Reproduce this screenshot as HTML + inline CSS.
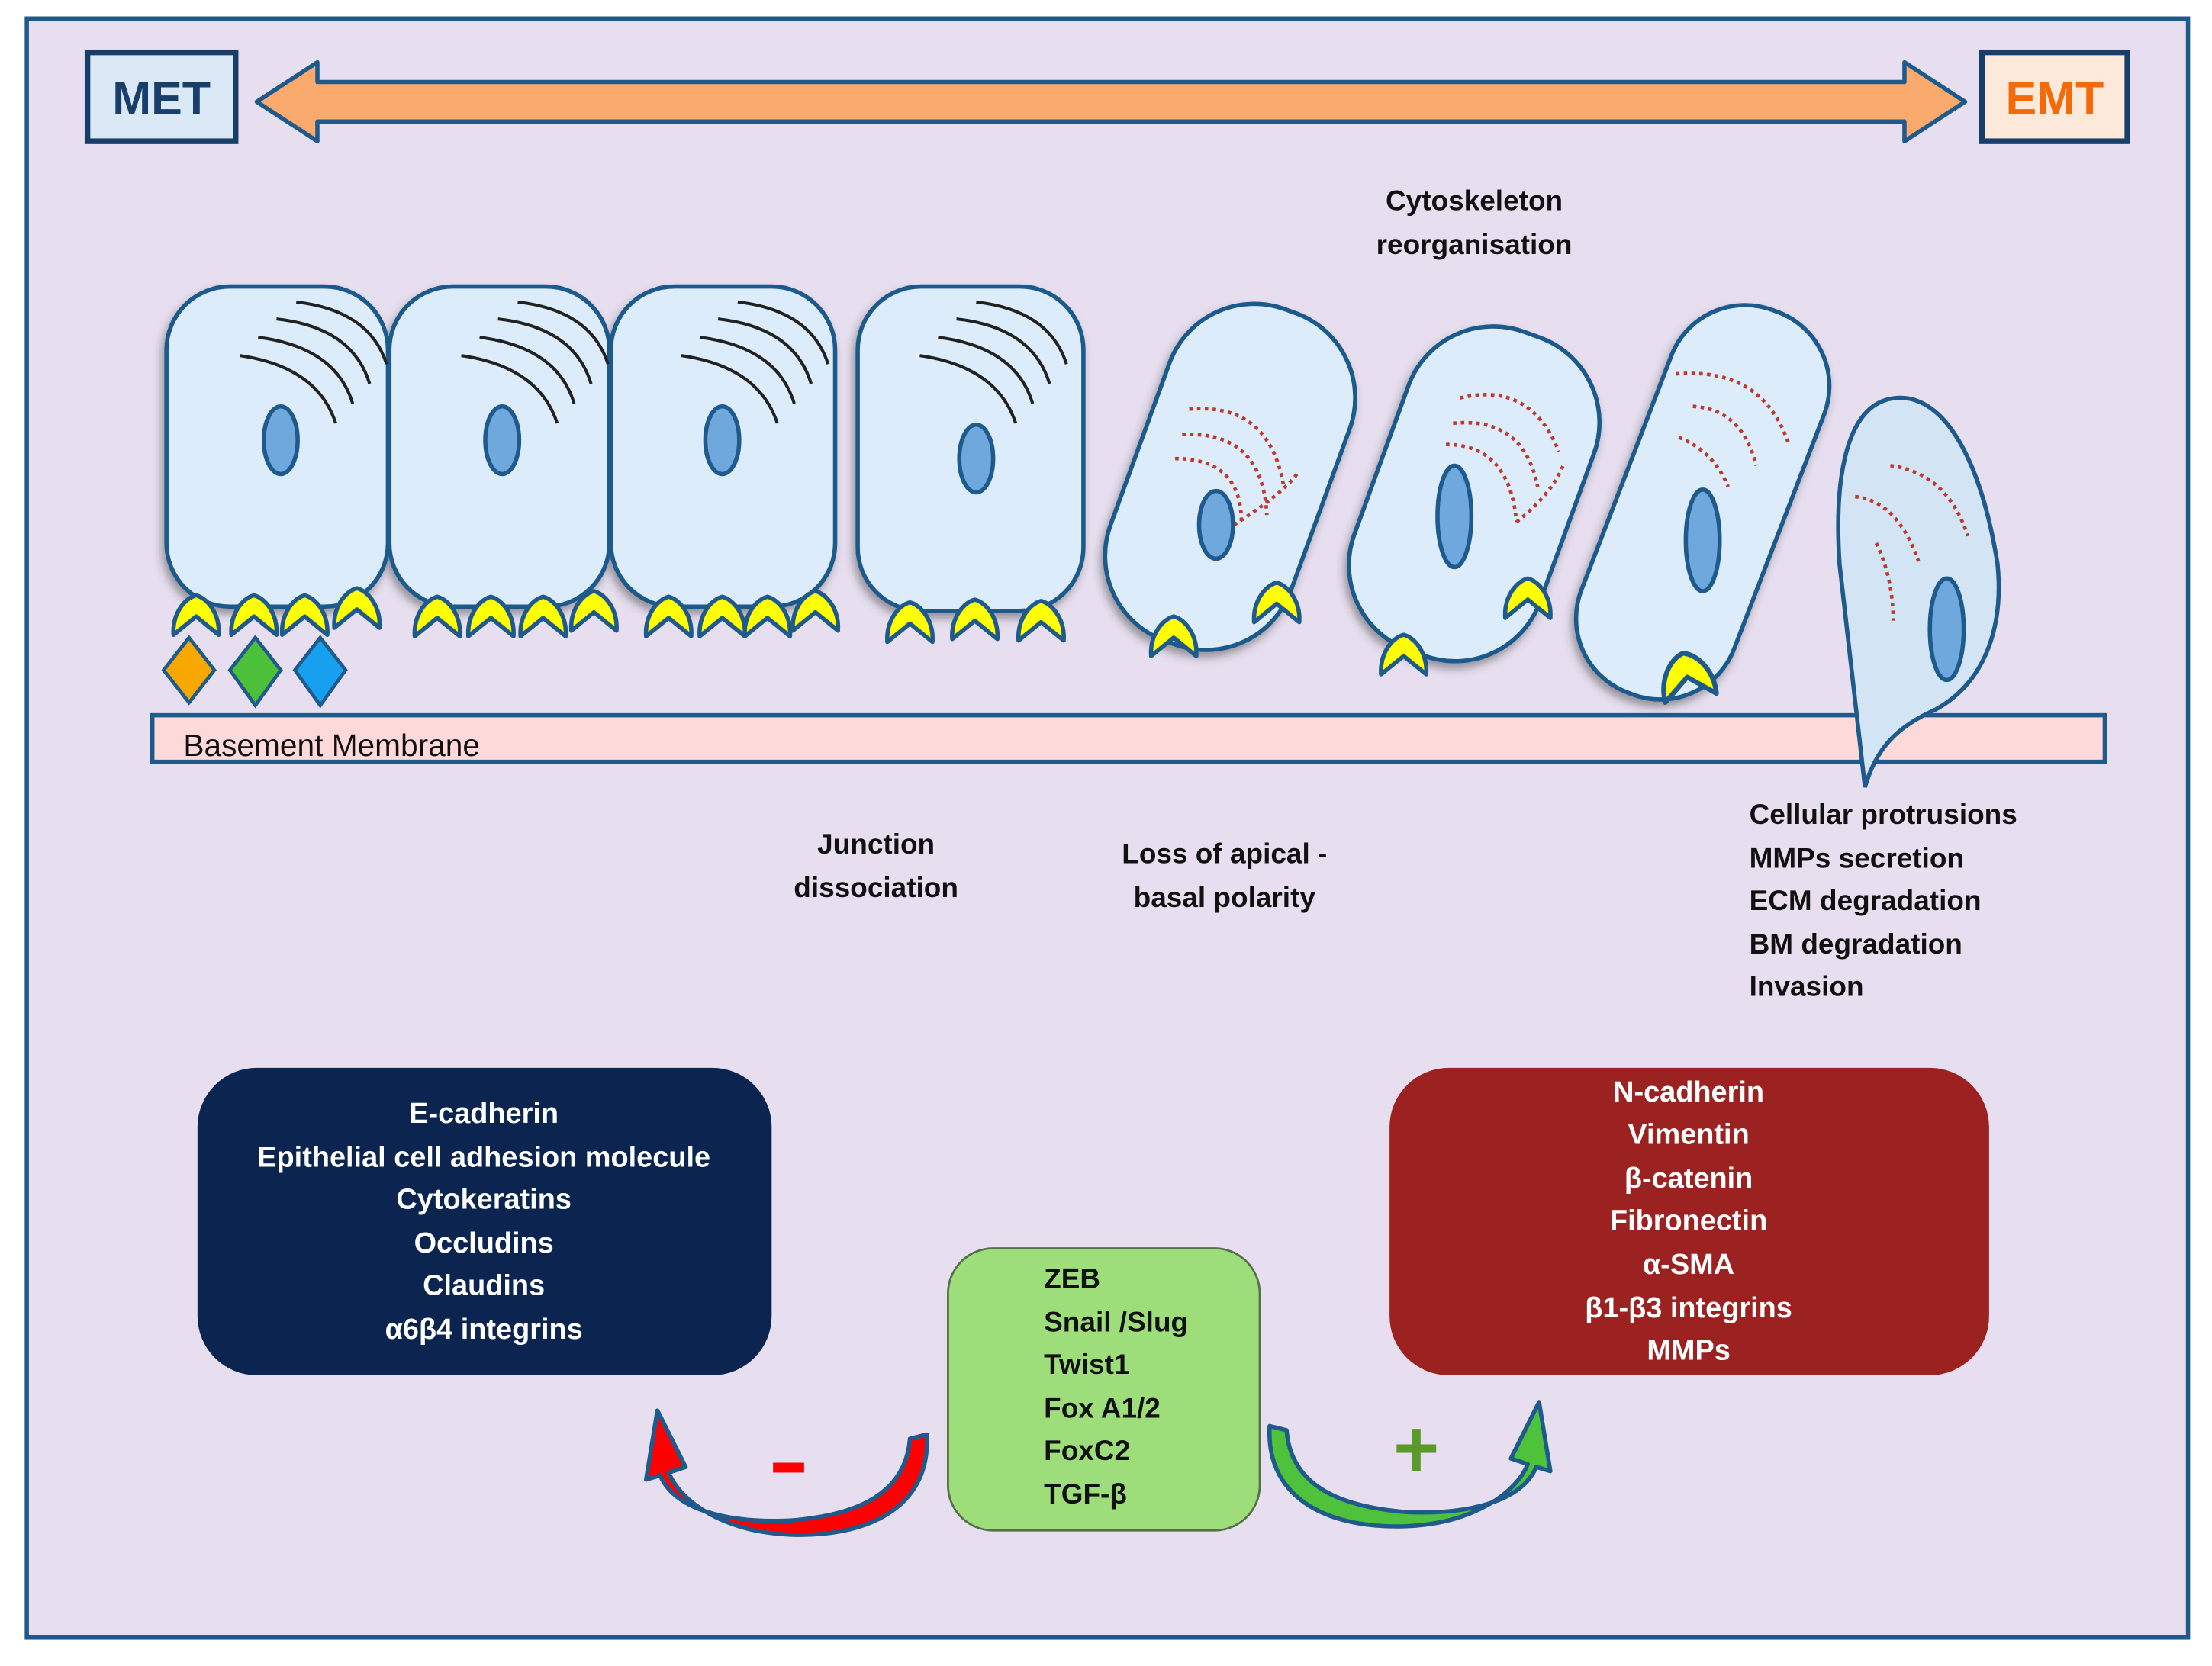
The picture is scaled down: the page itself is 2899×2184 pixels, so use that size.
<!DOCTYPE html>
<html><head><meta charset="utf-8"><style>
html,body{margin:0;padding:0;background:#fff;}
svg{display:block;}
text{font-family:"Liberation Sans",sans-serif;}
.b{font-weight:bold;font-size:20px;fill:#111;}
.w{font-weight:bold;font-size:20.5px;fill:#fff;}
</style></head><body>
<svg width="2899" height="2184" viewBox="0 0 1568 1181" xmlns="http://www.w3.org/2000/svg">
<defs>
<path id="claw" d="M-16,13 C-17,-2 -8,-13 0,-15 C8,-13 17,-2 16,13 L0,0 Z" fill="#ffff00" stroke="#1f5a8c" stroke-width="3" stroke-linejoin="round"/>
<g id="arcs" fill="none" stroke="#222" stroke-width="2.2">
<path d="M-30,-60 Q25,-52 38,-12"/>
<path d="M-17,-73 Q38,-66 50,-26"/>
<path d="M-4,-86 Q50,-80 62,-40"/>
<path d="M10,-98 Q62,-92 74,-54"/>
</g>
<filter id="sh" x="-20%" y="-20%" width="140%" height="140%"><feDropShadow dx="-2" dy="4" stdDeviation="3" flood-color="#333" flood-opacity="0.45"/></filter>
</defs>
<rect x="0" y="0" width="1568" height="1181" fill="#fff"/>
<rect x="19" y="13" width="1532" height="1148" fill="#e7dfef" stroke="#1f5a8c" stroke-width="3"/>

<path d="M182,72 L225,44 L225,58 L1350,58 L1350,44 L1393,72 L1350,100 L1350,86 L225,86 L225,100 Z" fill="#f9aa6c" stroke="#1f5a8c" stroke-width="3" stroke-linejoin="round"/>
<rect x="62" y="37" width="105" height="63" fill="#dbe8f6" stroke="#173f6a" stroke-width="4"/>
<text x="114.5" y="81" text-anchor="middle" style="font-weight:bold;font-size:33px;fill:#173f6a">MET</text>
<rect x="1405" y="37" width="103" height="63" fill="#fde9da" stroke="#173f6a" stroke-width="4"/>
<text x="1456.5" y="81" text-anchor="middle" style="font-weight:bold;font-size:33px;fill:#f26a0a">EMT</text>

<text x="1045" y="149" text-anchor="middle" class="b">Cytoskeleton</text>
<text x="1045" y="180" text-anchor="middle" class="b">reorganisation</text>

<rect x="108" y="507" width="1384" height="33" fill="#fdd9d9" stroke="#1f5a8c" stroke-width="3"/>
<text x="130" y="536" style="font-size:22px;fill:#111">Basement Membrane</text>

<g fill="#dcecfb" stroke="#1f5a8c" stroke-width="3" filter="url(#sh)">
<rect x="118" y="203" width="157" height="227" rx="45"/>
<rect x="276" y="203" width="156" height="227" rx="45"/>
<rect x="433" y="203" width="159" height="227" rx="45"/>
<rect x="608" y="203" width="160" height="230" rx="45"/>
<rect x="-68" y="-125" width="136" height="250" rx="64" transform="translate(872,338) rotate(20)"/>
<rect x="-70" y="-120" width="140" height="240" rx="64" transform="translate(1045,350) rotate(20)"/>
<rect x="-58" y="-145" width="116" height="290" rx="56" transform="translate(1207,356) rotate(21)"/>
</g>
<path d="M1345,282 C1308,284 1300,340 1304,400 L1322,558 C1330,530 1345,515 1372,503 C1410,482 1420,440 1416,400 C1405,330 1380,280 1345,282 Z" fill="#d3e4f4" stroke="#1f5a8c" stroke-width="3"/>

<use href="#arcs" transform="translate(200,312)"/>
<use href="#arcs" transform="translate(357,312)"/>
<use href="#arcs" transform="translate(513,312)"/>
<use href="#arcs" transform="translate(682,312)"/>

<g fill="none" stroke="#c0392b" stroke-width="2.5" stroke-dasharray="2.5 3">
<path d="M843,290 Q900,285 910,345"/>
<path d="M838,308 Q895,305 898,365"/>
<path d="M833,325 Q880,325 880,370"/>
<path d="M870,375 Q910,350 920,335"/>
<path d="M1035,282 Q1085,270 1105,320"/>
<path d="M1030,300 Q1080,295 1090,345"/>
<path d="M1025,315 Q1070,315 1075,370"/>
<path d="M1075,370 Q1100,350 1108,330"/>
<path d="M1188,265 Q1250,260 1268,315"/>
<path d="M1200,288 Q1235,290 1245,330"/>
<path d="M1190,310 Q1215,320 1225,345"/>
<path d="M1340,330 Q1380,335 1395,380"/>
<path d="M1315,352 Q1345,355 1360,398"/>
<path d="M1330,385 Q1342,410 1342,440"/>
</g>

<g fill="#6fa8dc" stroke="#1f5a8c" stroke-width="3">
<ellipse cx="199" cy="312" rx="12" ry="24"/>
<ellipse cx="356" cy="312" rx="12" ry="24"/>
<ellipse cx="512" cy="312" rx="12" ry="24"/>
<ellipse cx="692" cy="325" rx="12" ry="24"/>
<ellipse cx="862" cy="372" rx="12" ry="24"/>
<ellipse cx="1031" cy="366" rx="12" ry="36"/>
<ellipse cx="1207" cy="383" rx="12" ry="36"/>
<ellipse cx="1380" cy="446" rx="12" ry="36"/>
</g>

<use href="#claw" transform="translate(139,437)"/>
<use href="#claw" transform="translate(180,437)"/>
<use href="#claw" transform="translate(216,437)"/>
<use href="#claw" transform="translate(253,432)"/>
<use href="#claw" transform="translate(310,438)"/>
<use href="#claw" transform="translate(348,438)"/>
<use href="#claw" transform="translate(385,438)"/>
<use href="#claw" transform="translate(421,434)"/>
<use href="#claw" transform="translate(474,438)"/>
<use href="#claw" transform="translate(512,438)"/>
<use href="#claw" transform="translate(544,438)"/>
<use href="#claw" transform="translate(578,434)"/>
<use href="#claw" transform="translate(645,442)"/>
<use href="#claw" transform="translate(691,440)"/>
<use href="#claw" transform="translate(738,441)"/>
<use href="#claw" transform="translate(832,452)"/>
<use href="#claw" transform="translate(905,428)"/>
<use href="#claw" transform="translate(995,465)"/>
<use href="#claw" transform="translate(1083,425)"/>
<use href="#claw" transform="translate(1196,480) rotate(-10) scale(1.15)"/>

<path d="M134,452 L152,475 L134,498 L116,475 Z" fill="#f6a800" stroke="#1f5a8c" stroke-width="2.5"/>
<path d="M181,452 L199,475 L181,500 L163,475 Z" fill="#4cc038" stroke="#1f5a8c" stroke-width="2.5"/>
<path d="M227,452 L245,475 L227,500 L209,475 Z" fill="#18a0f0" stroke="#1f5a8c" stroke-width="2.5"/>

<text x="621" y="605" text-anchor="middle" class="b">Junction</text>
<text x="621" y="636" text-anchor="middle" class="b">dissociation</text>
<text x="868" y="612" text-anchor="middle" class="b">Loss of apical -</text>
<text x="868" y="643" text-anchor="middle" class="b">basal polarity</text>
<text x="1240" y="584" class="b">Cellular protrusions</text>
<text x="1240" y="615" class="b">MMPs secretion</text>
<text x="1240" y="645" class="b">ECM degradation</text>
<text x="1240" y="676" class="b">BM degradation</text>
<text x="1240" y="706" class="b">Invasion</text>

<rect x="140" y="757" width="407" height="218" rx="42" fill="#0b2550"/>
<g text-anchor="middle">
<text x="343" y="796" class="w">E-cadherin</text>
<text x="343" y="827" class="w">Epithelial cell adhesion molecule</text>
<text x="343" y="857" class="w">Cytokeratins</text>
<text x="343" y="888" class="w">Occludins</text>
<text x="343" y="918" class="w">Claudins</text>
<text x="343" y="949" class="w">α6β4 integrins</text>
</g>
<rect x="985" y="757" width="425" height="218" rx="42" fill="#9c2222"/>
<g text-anchor="middle">
<text x="1197" y="781" class="w">N-cadherin</text>
<text x="1197" y="811" class="w">Vimentin</text>
<text x="1197" y="842" class="w">β-catenin</text>
<text x="1197" y="872" class="w">Fibronectin</text>
<text x="1197" y="903" class="w">α-SMA</text>
<text x="1197" y="934" class="w">β1-β3 integrins</text>
<text x="1197" y="964" class="w">MMPs</text>
</g>
<rect x="672" y="885" width="221" height="200" rx="32" fill="#9ede7a" stroke="#56704a" stroke-width="1.5"/>
<text x="740" y="913" class="b">ZEB</text>
<text x="740" y="944" class="b">Snail /Slug</text>
<text x="740" y="974" class="b">Twist1</text>
<text x="740" y="1005" class="b">Fox A1/2</text>
<text x="740" y="1035" class="b">FoxC2</text>
<text x="740" y="1066" class="b">TGF-β</text>

<path d="M657,1017 C660,1072 610,1090 560,1088 C512,1086 482,1064 474,1044 L486,1040 L466,1000 L458,1049 L468,1046 C478,1070 515,1080 560,1078 C610,1074 642,1058 645,1020 Z" fill="#f00" stroke="#1f5a8c" stroke-width="3" stroke-linejoin="round"/>
<rect x="548" y="1037" width="22" height="7" fill="#f00"/>
<path d="M657,1017 C660,1072 610,1090 560,1088 C512,1086 482,1064 474,1044 L486,1040 L466,1000 L458,1049 L468,1046 C478,1070 515,1080 560,1078 C610,1074 642,1058 645,1020 Z" fill="#4ec23a" stroke="#1f5a8c" stroke-width="3" stroke-linejoin="round" transform="translate(1557,-6) scale(-1,1)"/>
<rect x="990" y="1024" width="28" height="6" fill="#5a9a2a"/>
<rect x="1001" y="1013" width="6" height="30" fill="#5a9a2a"/>
</svg>
</body></html>
